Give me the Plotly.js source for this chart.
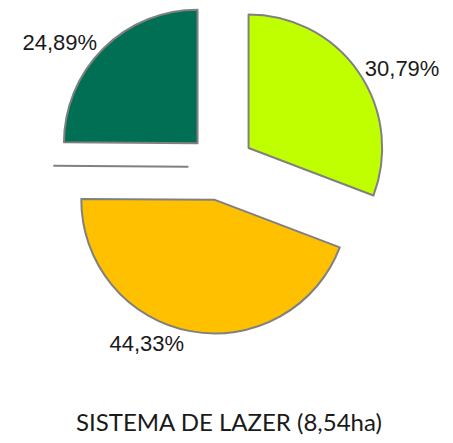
<!DOCTYPE html>
<html>
<head>
<meta charset="utf-8">
<script src="https://cdn.plot.ly/plotly-3.0.1.min.js"></script>
<style>html,body{margin:0;padding:0;background:#fff;}#chart{width:453px;height:443px;}</style>
</head>
<body>
<div id="chart"></div>
<script>
const categories = ['A', 'B', 'C', 'D'];
const values = [30.79, 44.33, 0.001, 24.89];
const colors = ['#BFFF00', '#FFC000', '#808080', '#006F53'];
const chartTitle = 'SISTEMA DE LAZER (8,54ha)';

const labelsText = values.map(v => v >= 1 ? v.toFixed(2).replace('.', ',') + '%' : '');

const trace = {
  type: 'pie',
  labels: categories,
  values: values,
  sort: false,
  direction: 'clockwise',
  rotation: 0,
  pull: 0.25,
  marker: { colors: colors, line: { color: '#808080', width: 2 } },
  text: labelsText,
  textinfo: 'text',
  textposition: 'outside',
  textfont: { family: 'Liberation Sans, Arial, sans-serif', size: 22, color: '#1a1a1a' },
  hoverinfo: 'none',
  showlegend: false,
  automargin: false,
  domain: { x: [0, 0.976], y: [0, 1] }
};

const layout = {
  width: 453,
  height: 443,
  margin: { l: 0, r: 0, t: 0, b: 109 },
  paper_bgcolor: '#ffffff',
  showlegend: false,
  annotations: [{
    text: chartTitle,
    xref: 'paper', yref: 'paper',
    x: 0.505, y: -0.262,
    xanchor: 'center', yanchor: 'middle',
    showarrow: false,
    font: { family: 'Lato, DejaVu Sans, sans-serif', size: 24, color: '#1a1a1a' }
  }]
};

Plotly.newPlot('chart', [trace], layout, { staticPlot: true, displayModeBar: false });
</script>
</body>
</html>
